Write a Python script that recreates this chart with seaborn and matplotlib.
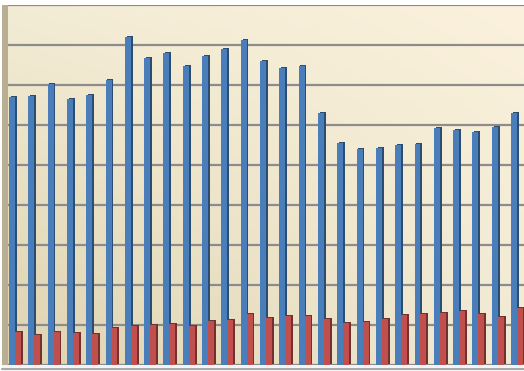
import numpy as np
import pandas as pd
import matplotlib
matplotlib.use("Agg")
import matplotlib.pyplot as plt
import matplotlib.patheffects as pe
from matplotlib.colors import to_rgb
from matplotlib.patches import Rectangle
from matplotlib.lines import Line2D
import seaborn as sns

# ---- data (gridline step = 10) ----
categories = [str(i) for i in range(1, 28)]
blue_values = [67, 67.25, 70.25, 66.5, 67.5, 71.25, 82, 76.75, 78, 74.75, 77.25,
               79, 81.25, 76, 74.25, 74.75, 63, 55.5, 54, 54.25, 55, 55.25,
               59.25, 58.75, 58.25, 59.5, 63]
red_values = [8.25, 7.5, 8.25, 8, 7.75, 9.25, 9.75, 10, 10.25, 9.75, 11, 11.25,
              12.75, 11.75, 12.25, 12.25, 11.5, 10.5, 10.75, 11.5, 12.5, 12.75,
              13, 13.5, 12.75, 12, 14.25]
series_names = ["Series 1", "Series 2"]
colors = ["#4A7EBB", "#C0504D"]

df = pd.DataFrame({
    "cat": categories * 2,
    "series": [series_names[0]] * len(categories) + [series_names[1]] * len(categories),
    "value": blue_values + red_values,
})

W, H = 524, 371
fig = plt.figure(figsize=(W / 100, H / 100), dpi=100)
fig.patch.set_facecolor("white")
ax = fig.add_axes([8 / W, 6 / H, 516 / W, 360 / H])

# background gradient (lighter top-right, darker bottom-left)
tl = np.array([243, 236, 213]) / 255
tr = np.array([251, 241, 220]) / 255
bl = np.array([222, 211, 176]) / 255
br = np.array([241, 234, 212]) / 255
ny, nx = 100, 100
yy, xx = np.mgrid[0:1:ny * 1j, 0:1:nx * 1j]
img = ((1 - xx)[..., None] * (1 - yy)[..., None] * tl + xx[..., None] * (1 - yy)[..., None] * tr
       + (1 - xx)[..., None] * yy[..., None] * bl + xx[..., None] * yy[..., None] * br)
ax.imshow(img, extent=[0, 1, 0, 1], transform=ax.transAxes, aspect="auto", zorder=0)

sns.barplot(data=df, x="cat", y="value", hue="series", palette=colors,
            width=0.62, gap=0, saturation=1, legend=False, ax=ax, zorder=3,
            linewidth=0, errorbar=None)

for p in ax.patches:
    fc = np.array(to_rgb(p.get_facecolor()))
    dark = tuple(fc * 0.6)
    p.set_path_effects([pe.SimplePatchShadow(offset=(1.3, 0.7), shadow_rgbFace=dark, alpha=1),
                        pe.Normal()])

ax.set_xlim(-0.36, 26.36)
ax.set_ylim(0, 90)
ax.set_yticks(np.arange(0, 91, 10))
ax.yaxis.grid(True, color="#8c8c8c", linewidth=1.6, zorder=1)
ax.set_axisbelow(True)
ax.tick_params(left=False, bottom=False, labelleft=False, labelbottom=False)
ax.set_xlabel("")
ax.set_ylabel("")
for s in ax.spines.values():
    s.set_visible(False)

# left 3D wall
fig.add_artist(Rectangle((2 / W, 4 / H), 6 / W, 362 / H, transform=fig.transFigure,
                         facecolor="#b9ae92", edgecolor="none", zorder=0))
# floor
fig.add_artist(Rectangle((2 / W, 0 / H), 522 / W, 6 / H, transform=fig.transFigure,
                         facecolor="#f4f4f4", edgecolor="none", zorder=0))
fig.add_artist(Line2D([2 / W, 1], [2 / H, 2 / H], transform=fig.transFigure,
                      color="#9a9a9a", linewidth=1.2))

fig.savefig("out.png", dpi=100)
